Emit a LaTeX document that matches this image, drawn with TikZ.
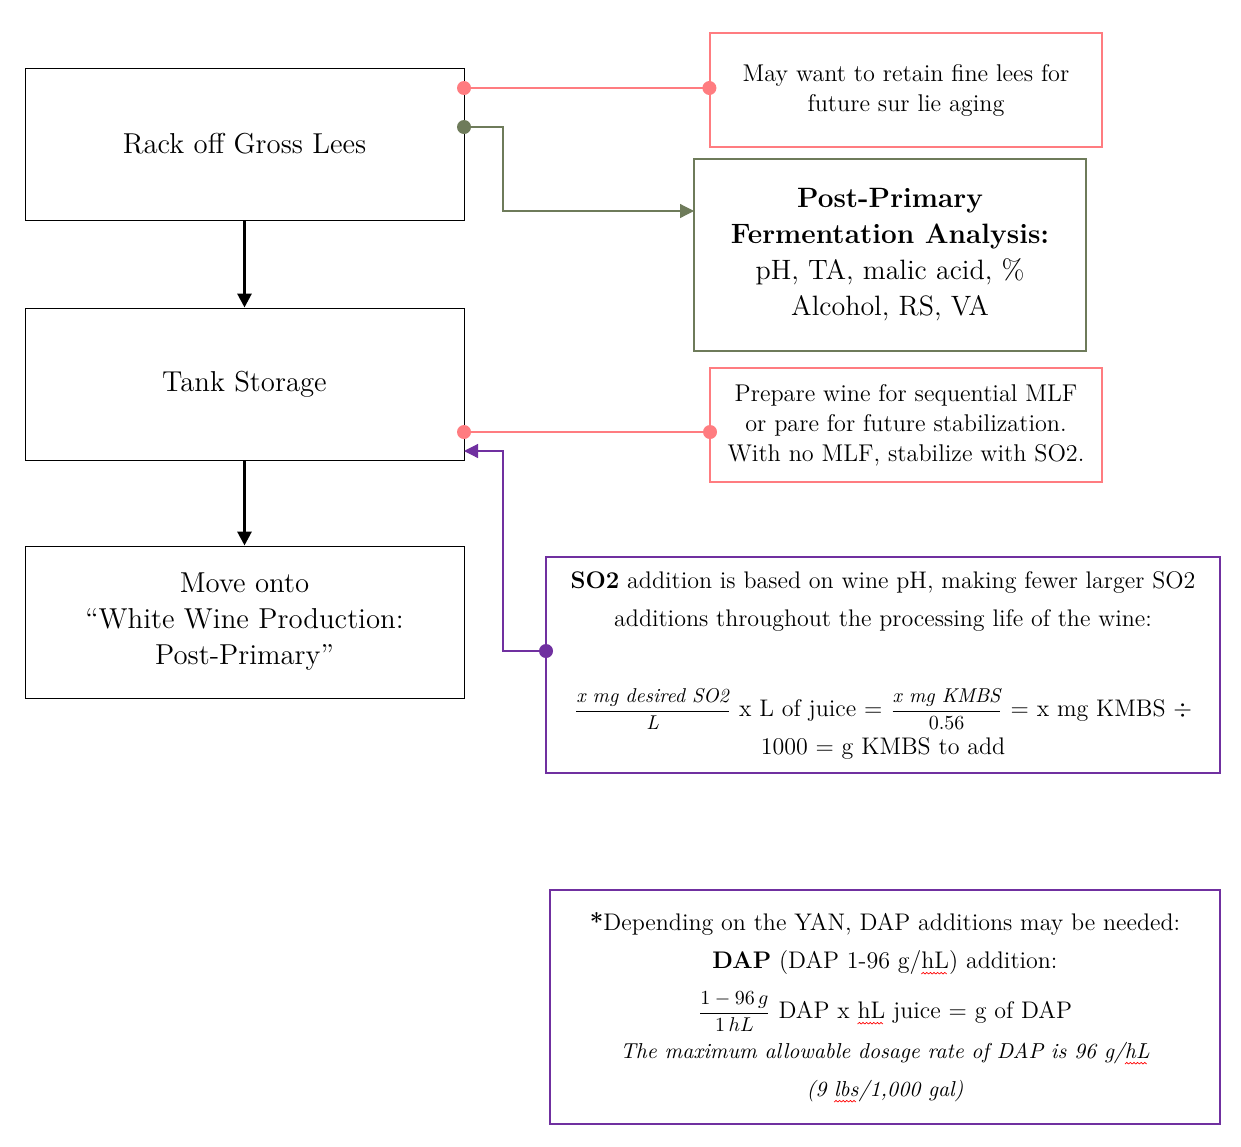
\documentclass[tikz,border=0pt]{standalone}
\usepackage{fix-cm}
\usepackage{amsmath}
\usetikzlibrary{arrows.meta}
\definecolor{leesred}{HTML}{FF7C80}
\definecolor{olive}{HTML}{6E7B5A}
\definecolor{sopurple}{HTML}{7030A0}
\newsavebox{\spellbox}
\newcommand{\wavebit}{\begin{pgfpicture}
	\pgfpathrectangle{\pgfpointorigin}{\pgfpoint{1.8pt}{0.8pt}}\pgfusepath{use as bounding box}
	\begin{pgfinterruptboundingbox}
	\pgfsetlinewidth{0.35pt}\pgfsetstrokecolor{red}
	\pgfpathmoveto{\pgfpointorigin}\pgfpathlineto{\pgfpoint{0.9pt}{0.8pt}}\pgfpathlineto{\pgfpoint{1.8pt}{0pt}}
	\pgfusepath{stroke}
	\end{pgfinterruptboundingbox}\end{pgfpicture}}
\newcommand{\spellmark}[1]{\sbox{\spellbox}{#1}\rlap{\raisebox{-3pt}{\hbox to\wd\spellbox{\leaders\hbox{\wavebit}\hfill}}}\usebox{\spellbox}}
\tikzset{
	stepbox/.style = {draw, line width=0.5pt, inner sep=0pt, align=center,
		minimum width=219.5pt, minimum height=76pt, font=\fontsize{14.4}{18}\selectfont},
	notebox/.style = {draw=leesred, line width=0.6pt, inner sep=0pt, align=center,
		minimum width=196pt, minimum height=57pt, font=\fontsize{12.1}{15}\selectfont},
	dot/.style = {circle, fill=#1, inner sep=0pt, minimum size=7pt},
}
\begin{document}
\begin{tikzpicture}[x = 0.5pt, y = -0.5pt]
	\useasboundingbox (0,0) rectangle (1241,1146);
	% main steps
	\node [stepbox] (rack) at (244.5,144) {\raisebox{-1pt}{Rack off Gross Lees}};
	\node [stepbox] (tank) at (244.5,384) {\raisebox{-2pt}{Tank Storage}};
	\node [stepbox] (move) at (244.5,622) {Move onto\\``White Wine Production:\\Post-Primary''};
	\draw [line width=1.5pt, -{Triangle[width=7pt,length=7pt]}] (rack) -- (tank);
	\draw [line width=1.5pt, -{Triangle[width=7pt,length=7pt]}] (tank) -- (move);
	% side notes
	\node [notebox] (retain) at (906,90) {May want to retain fine lees for\\future sur lie aging};
	\node [notebox] (prepare) at (906,425) {Prepare wine for sequential MLF\\or pare for future stabilization.\\With no MLF, stabilize with SO2.};
	\node [draw=olive, line width=0.6pt, inner sep=0pt, align=center, minimum width=196pt,
		minimum height=96pt, font=\fontsize{14}{18}\selectfont] (analysis) at (890,255)
		{\textbf{Post-Primary}\\\textbf{Fermentation Analysis:}\\pH, TA, malic acid, \%\\Alcohol, RS, VA};
	\node [draw=sopurple, line width=0.6pt, inner sep=0pt, align=center, minimum width=337pt,
		minimum height=108pt, font=\fontsize{12}{19}\selectfont] (sotwo) at (883,665)
		{\textbf{SO2} addition is based on wine pH, making fewer larger SO2\\
		additions throughout the processing life of the wine:\\[26pt]
		{\fontsize{10}{10}\selectfont$\dfrac{\textit{x mg desired SO2}}{\textit{L}}$} x L of juice =
		{\fontsize{10}{10}\selectfont$\dfrac{\textit{x mg KMBS}}{0.56}$} = x mg KMBS $\div$\\
		1000 = g KMBS to add};
	\node [draw=sopurple, line width=0.6pt, inner sep=0pt, align=center, minimum width=335pt,
		minimum height=117pt, font=\fontsize{12}{19}\selectfont] (dap) at (885,1007)
		{\textbf{*}Depending on the YAN, DAP additions may be needed:\\
		\textbf{DAP} (DAP 1-96 g/\spellmark{hL}) addition:\\[6pt]
		{\fontsize{10}{10}\selectfont$\dfrac{1-96\,g}{1\,hL}$} DAP x \spellmark{hL} juice = g of DAP\\[1pt]
		{\fontsize{10.8}{19}\selectfont\itshape The maximum allowable dosage rate of DAP is 96 g/\spellmark{hL}}\\
		{\fontsize{10.8}{19}\selectfont\itshape (9 \spellmark{lbs}/1,000 gal)}};
	% connectors
	\coordinate (r1) at (464,88);
	\coordinate (g1) at (464,127);
	\coordinate (g2) at (694,211);
	\coordinate (t1) at (464,432);
	\coordinate (p1) at (710,432);
	\coordinate (s1) at (546,651);
	\coordinate (t2) at (464,451);
	\draw [leesred, line width=0.6pt] (r1) -- (r1 -| retain.west);
	\node [dot=leesred] at (r1) {};
	\node [dot=leesred] at (r1 -| retain.west) {};
	\draw [olive, line width=0.6pt, -{Triangle[width=7pt,length=7pt]}] (g1) -- (503,127) |- (g2);
	\node [dot=olive] at (g1) {};
	\draw [leesred, line width=0.6pt] (t1) -- (p1);
	\node [dot=leesred] at (t1) {};
	\node [dot=leesred] at (p1) {};
	\draw [sopurple, line width=0.6pt, -{Triangle[width=7pt,length=7pt]}] (s1) -- (503,651) |- (t2);
	\node [dot=sopurple] at (s1) {};
\end{tikzpicture}
\end{document}
